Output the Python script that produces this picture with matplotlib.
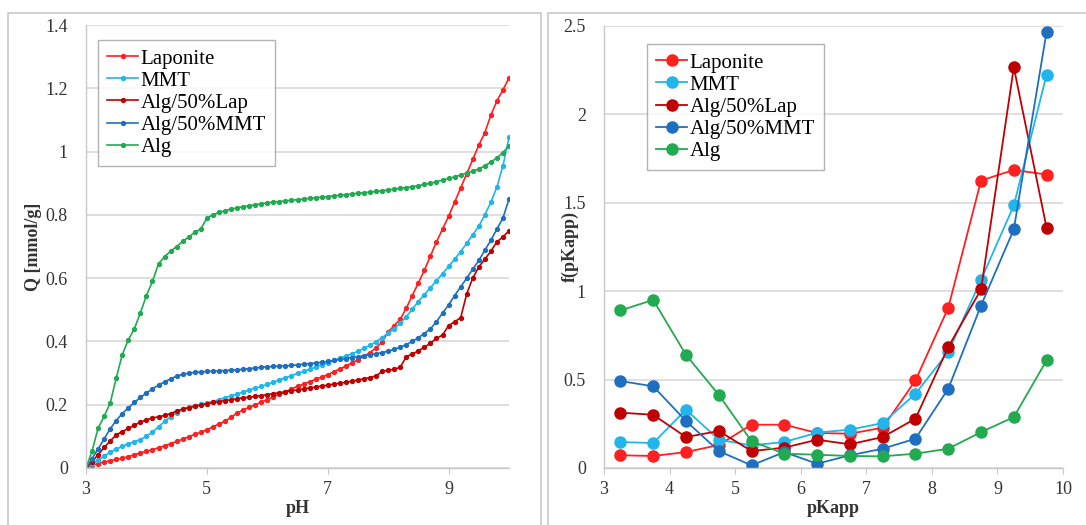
import matplotlib
matplotlib.use("Agg")
import matplotlib.pyplot as plt
from matplotlib.patches import Rectangle

# titration curves, Q vs pH
ph = [3.0, 3.1, 3.2, 3.3, 3.4, 3.5, 3.6, 3.7, 3.8, 3.9,
      4.0, 4.1, 4.2, 4.3, 4.4, 4.5, 4.6, 4.7, 4.8, 4.9,
      5.0, 5.1, 5.2, 5.3, 5.4, 5.5, 5.6, 5.7, 5.8, 5.9,
      6.0, 6.1, 6.2, 6.3, 6.4, 6.5, 6.6, 6.7, 6.8, 6.9,
      7.0, 7.1, 7.2, 7.3, 7.4, 7.5, 7.6, 7.7, 7.8, 7.9,
      8.0, 8.1, 8.2, 8.3, 8.4, 8.5, 8.6, 8.7, 8.8, 8.9,
      9.0, 9.1, 9.2, 9.3, 9.4, 9.5, 9.6, 9.7, 9.8, 9.9, 10.0]

q_laponite = [0, 0.008, 0.014, 0.019, 0.023, 0.027, 0.031, 0.036, 0.042, 0.048,
              0.053, 0.058, 0.064, 0.070, 0.077, 0.084, 0.091, 0.099, 0.106, 0.113,
              0.121, 0.130, 0.139, 0.148, 0.160, 0.174, 0.183, 0.192, 0.200, 0.208,
              0.216, 0.225, 0.233, 0.241, 0.250, 0.258, 0.265, 0.273, 0.280, 0.288,
              0.295, 0.304, 0.313, 0.322, 0.332, 0.342, 0.353, 0.365, 0.380, 0.398,
              0.430, 0.450, 0.470, 0.505, 0.545, 0.585, 0.625, 0.670, 0.715, 0.755,
              0.795, 0.840, 0.885, 0.930, 0.975, 1.020, 1.060, 1.115, 1.160, 1.195, 1.233]

q_mmt = [0, 0.012, 0.025, 0.037, 0.050, 0.060, 0.068, 0.076, 0.083, 0.090,
         0.100, 0.114, 0.130, 0.147, 0.162, 0.175, 0.185, 0.192, 0.197, 0.201,
         0.205, 0.210, 0.216, 0.222, 0.228, 0.234, 0.240, 0.246, 0.252, 0.258,
         0.264, 0.271, 0.278, 0.285, 0.292, 0.299, 0.305, 0.312, 0.319, 0.326,
         0.333, 0.340, 0.347, 0.354, 0.361, 0.369, 0.378, 0.388, 0.399, 0.412,
         0.426, 0.440, 0.458, 0.478, 0.502, 0.526, 0.548, 0.570, 0.592, 0.614,
         0.637, 0.660, 0.684, 0.710, 0.737, 0.764, 0.800, 0.840, 0.888, 0.955, 1.045]

q_alg_lap = [0, 0.020, 0.042, 0.065, 0.085, 0.105, 0.115, 0.125, 0.135, 0.145,
             0.152, 0.158, 0.162, 0.166, 0.172, 0.180, 0.186, 0.191, 0.195, 0.199,
             0.203, 0.207, 0.210, 0.213, 0.216, 0.219, 0.222, 0.224, 0.226, 0.229,
             0.232, 0.235, 0.238, 0.241, 0.244, 0.247, 0.250, 0.253, 0.256, 0.259,
             0.262, 0.265, 0.268, 0.271, 0.274, 0.278, 0.282, 0.286, 0.291, 0.305,
             0.309, 0.312, 0.318, 0.352, 0.360, 0.370, 0.382, 0.394, 0.410, 0.420,
             0.450, 0.462, 0.475, 0.550, 0.600, 0.635, 0.660, 0.685, 0.715, 0.730, 0.750]

q_alg_mmt = [0, 0.030, 0.060, 0.092, 0.124, 0.150, 0.172, 0.190, 0.207, 0.223,
             0.237, 0.250, 0.262, 0.272, 0.282, 0.290, 0.296, 0.300, 0.302, 0.304,
             0.305, 0.306, 0.307, 0.308, 0.309, 0.310, 0.312, 0.314, 0.316, 0.318,
             0.320, 0.321, 0.322, 0.323, 0.324, 0.326, 0.328, 0.330, 0.332, 0.334,
             0.337, 0.340, 0.343, 0.346, 0.349, 0.352, 0.355, 0.358, 0.361, 0.365,
             0.369, 0.375, 0.382, 0.390, 0.400, 0.412, 0.425, 0.440, 0.462, 0.490,
             0.515, 0.545, 0.572, 0.600, 0.628, 0.656, 0.688, 0.720, 0.755, 0.790, 0.850]

q_alg = [0, 0.053, 0.126, 0.163, 0.205, 0.284, 0.358, 0.405, 0.440, 0.490,
         0.545, 0.590, 0.645, 0.668, 0.685, 0.700, 0.716, 0.730, 0.745, 0.755,
         0.790, 0.800, 0.808, 0.813, 0.818, 0.822, 0.826, 0.829, 0.832, 0.835,
         0.838, 0.840, 0.842, 0.844, 0.846, 0.848, 0.850, 0.852, 0.854, 0.856,
         0.858, 0.860, 0.862, 0.864, 0.866, 0.868, 0.870, 0.872, 0.874, 0.876,
         0.879, 0.881, 0.884, 0.886, 0.889, 0.892, 0.896, 0.900, 0.905, 0.910,
         0.915, 0.920, 0.926, 0.932, 0.938, 0.945, 0.955, 0.967, 0.980, 0.997, 1.018]

# distribution functions f(pKapp)
pk = [3.25, 3.75, 4.25, 4.75, 5.25, 5.75, 6.25, 6.75, 7.25, 7.75, 8.25, 8.75, 9.25, 9.75]
f_laponite = [0.072, 0.068, 0.090, 0.130, 0.245, 0.245, 0.198, 0.194, 0.228, 0.495, 0.906, 1.626, 1.686, 1.660]
f_mmt = [0.147, 0.141, 0.330, 0.160, 0.128, 0.147, 0.200, 0.217, 0.254, 0.420, 0.656, 1.064, 1.485, 2.225]
f_alg_lap = [0.313, 0.301, 0.175, 0.209, 0.096, 0.115, 0.160, 0.134, 0.175, 0.279, 0.684, 1.010, 2.266, 1.358]
f_alg_mmt = [0.492, 0.462, 0.266, 0.096, 0.015, 0.090, 0.024, 0.072, 0.109, 0.166, 0.448, 0.919, 1.350, 2.468]
f_alg = [0.891, 0.951, 0.640, 0.414, 0.151, 0.081, 0.075, 0.068, 0.066, 0.081, 0.109, 0.203, 0.288, 0.609]

names = ["Laponite", "MMT", "Alg/50%Lap", "Alg/50%MMT", "Alg"]
colors = ["#ff2020", "#22b5ea", "#c00000", "#1f6fc0", "#22aa50"]

plt.rcParams['font.family'] = ['Liberation Serif', 'DejaVu Serif']

fig = plt.figure(figsize=(10.86, 5.25), dpi=100)

# panel frames
for x0, x1 in [(8, 541), (548, 1090)]:
    fig.add_artist(Rectangle((x0 / 1086, -0.01), (x1 - x0) / 1086, (525 - 13) / 525 + 0.01,
                             transform=fig.transFigure, fill=False,
                             edgecolor="#c8c8c8", linewidth=1.2))


def style(ax):
    ax.grid(axis="y", color="#d9d9d9", linewidth=1.2)
    ax.set_axisbelow(True)
    for s in ["top", "right"]:
        ax.spines[s].set_visible(False)
    for s in ["left", "bottom"]:
        ax.spines[s].set_color("#c8c8c8")
        ax.spines[s].set_linewidth(1.0)
    ax.tick_params(axis="y", length=0, labelsize=13, colors="#333333", pad=13)
    ax.tick_params(axis="x", length=4, color="#c8c8c8", labelsize=13,
                   labelcolor="#333333", pad=5)


# left: titration curves
ax1 = fig.add_axes([86 / 1086, 57 / 525, 423 / 1086, 443 / 525])
for y, name, c in zip([q_laponite, q_mmt, q_alg_lap, q_alg_mmt, q_alg], names, colors):
    ax1.plot(ph, y, color=c, linewidth=1.2, marker="o", markersize=2.8, label=name)
ax1.set_xlim(3, 10)
ax1.set_ylim(0, 1.4)
ax1.set_xticks([3, 5, 7, 9])
ax1.set_yticks([0, 0.2, 0.4, 0.6, 0.8, 1.0, 1.2, 1.4])
ax1.set_yticklabels(["0", "0.2", "0.4", "0.6", "0.8", "1", "1.2", "1.4"])
style(ax1)
ax1.set_xlabel("pH", fontsize=13, fontweight="bold", color="#333333", labelpad=2)
ax1.set_ylabel("Q [mmol/g]", fontsize=13, fontweight="bold", color="#333333")
ax1.yaxis.set_label_coords(-0.105, 0.5)
leg1 = ax1.legend(loc="upper left", bbox_to_anchor=(0.028, 0.967), fontsize=15,
                  frameon=True, fancybox=False, edgecolor="#a0a0a0",
                  handlelength=1.5, handletextpad=0.1, labelspacing=0.12,
                  borderpad=0.45, borderaxespad=0)
leg1.get_frame().set_linewidth(1.0)

# right: f(pKapp)
ax2 = fig.add_axes([604 / 1086, 57 / 525, 459 / 1086, 442 / 525])
for y, name, c in zip([f_laponite, f_mmt, f_alg_lap, f_alg_mmt, f_alg], names, colors):
    ax2.plot(pk, y, color=c, linewidth=1.3, marker="o", markersize=8, label=name)
ax2.set_xlim(3, 10)
ax2.set_ylim(0, 2.5)
ax2.set_xticks([3, 4, 5, 6, 7, 8, 9, 10])
ax2.set_yticks([0, 0.5, 1, 1.5, 2, 2.5])
ax2.set_yticklabels(["0", "0.5", "1", "1.5", "2", "2.5"])
style(ax2)
ax2.set_xlabel("pKapp", fontsize=13, fontweight="bold", color="#333333", labelpad=2)
ax2.set_ylabel("f(pKapp)", fontsize=13, fontweight="bold", color="#333333")
ax2.yaxis.set_label_coords(-0.055, 0.5)
leg2 = ax2.legend(loc="upper left", bbox_to_anchor=(0.093, 0.96), fontsize=15,
                  frameon=True, fancybox=False, edgecolor="#a0a0a0",
                  handlelength=1.5, handletextpad=0.1, labelspacing=0.12,
                  borderpad=0.45, borderaxespad=0)
leg2.get_frame().set_linewidth(1.0)

fig.savefig("out.png", dpi=100)
